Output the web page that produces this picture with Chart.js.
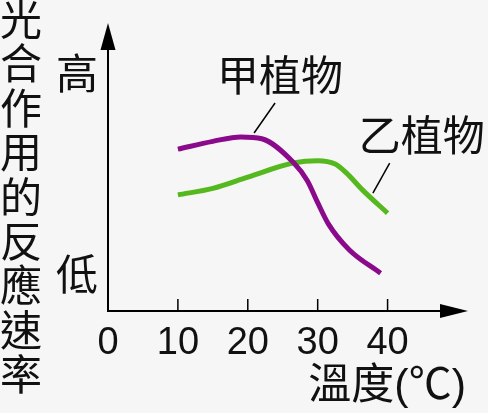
<!DOCTYPE html>
<html>
<head>
<meta charset="utf-8">
<script src="https://cdn.jsdelivr.net/npm/chart.js@4/dist/chart.umd.min.js"></script>
<style>
  html, body { margin: 0; padding: 0; background: #f7f6f6; }
  #wrap { width: 488px; height: 413px; }
</style>
</head>
<body>
<div id="wrap"><canvas id="chart" width="488" height="413"></canvas></div>
<script>
// 甲植物 / 乙植物 的溫度-速率曲線 (讀圖估計, 單位任意 0~100)
const jiaTemps = [10, 15, 19, 22, 26.5, 28.5, 30, 31.5, 34.5, 39];
const jiaRates = [62, 65, 66.7, 66, 57, 50, 41.5, 33.5, 23.5, 14.5];
const yiTemps = [10, 15, 20, 26.5, 30, 32.5, 34.1, 36.4, 40];
const yiRates = [44.5, 47, 51.3, 56.7, 57.6, 56.3, 52.9, 46.4, 37.5];

const xTickValues = [0, 10, 20, 30, 40];
const yTickValues = [14.2, 91.2];
const yTickLabels = ["低", "高"];

const seriesNames = ["甲植物", "乙植物"];
const xTitle = "溫度(℃)";
const yTitle = "光合作用的反應速率";

const CJK = "'Noto Sans CJK TC', 'Noto Sans CJK SC', sans-serif";
const LATIN = "'Liberation Sans', Arial, 'Noto Sans CJK TC', sans-serif";

// 箭頭、刻度、標籤與引線
const decorPlugin = {
    id: "decor",
    afterDraw(chart, args, opts) {
        const ctx = chart.ctx;
        const xs = chart.scales.x;
        const ys = chart.scales.y;
        const left = xs.left, bottom = ys.bottom;
        ctx.save();
        ctx.fillStyle = "#000";
        ctx.strokeStyle = "#000";

        // y 軸延伸與箭頭
        ctx.lineWidth = 2;
        ctx.beginPath();
        ctx.moveTo(left, ys.top);
        ctx.lineTo(left, ys.top - 10);
        ctx.stroke();
        ctx.beginPath();
        ctx.moveTo(left, ys.top - 27);
        ctx.lineTo(left - 7.5, ys.top);
        ctx.lineTo(left + 7.5, ys.top);
        ctx.closePath();
        ctx.fill();

        // x 軸箭頭
        ctx.beginPath();
        ctx.moveTo(xs.right + 28, bottom);
        ctx.lineTo(xs.right, bottom - 7);
        ctx.lineTo(xs.right, bottom + 7);
        ctx.closePath();
        ctx.fill();

        // 內側刻度
        ctx.lineWidth = 1.5;
        xTickValues.forEach(v => {
            if (v === 0) return;
            const px = xs.getPixelForValue(v);
            ctx.beginPath();
            ctx.moveTo(px, bottom);
            ctx.lineTo(px, bottom - 12);
            ctx.stroke();
        });

        // 引線
        ctx.lineWidth = 1.5;
        opts.leaders.forEach(l => {
            ctx.beginPath();
            ctx.moveTo(xs.getPixelForValue(l[0]), ys.getPixelForValue(l[1]));
            ctx.lineTo(xs.getPixelForValue(l[2]), ys.getPixelForValue(l[3]));
            ctx.stroke();
        });

        // 曲線名稱
        ctx.fillStyle = "#111";
        ctx.font = "42px " + CJK;
        ctx.textAlign = "center";
        ctx.textBaseline = "middle";
        opts.labels.forEach((l, i) => {
            ctx.fillText(seriesNames[i], xs.getPixelForValue(l[0]), ys.getPixelForValue(l[1]));
        });

        // y 軸標題 (直書)
        ctx.font = "42px " + CJK;
        [...yTitle].forEach((ch, i) => {
            ctx.fillText(ch, 21, 19 + i * 44.4);
        });

        // x 軸標題
        ctx.font = "43px " + LATIN;
        ctx.textAlign = "right";
        ctx.fillText(xTitle, xs.right + 26, 387);

        ctx.restore();
    }
};

new Chart(document.getElementById("chart"), {
    type: "line",
    data: {
        datasets: [
            {
                label: seriesNames[0],
                data: jiaTemps.map((t, i) => ({ x: t, y: jiaRates[i] })),
                borderColor: "#8b0a8b",
                borderWidth: 5,
                pointRadius: 0,
                cubicInterpolationMode: "monotone",
                fill: false
            },
            {
                label: seriesNames[1],
                data: yiTemps.map((t, i) => ({ x: t, y: yiRates[i] })),
                borderColor: "#55b81e",
                borderWidth: 5,
                pointRadius: 0,
                cubicInterpolationMode: "monotone",
                fill: false
            }
        ]
    },
    options: {
        responsive: false,
        animation: false,
        layout: { padding: { left: 0, top: 50, right: 48, bottom: 0 } },
        plugins: {
            legend: { display: false },
            tooltip: { enabled: false },
            decor: {
                labels: [[24.6, 90.4], [44.9, 67.4]],
                leaders: [[23.9, 79.7, 20.9, 68.2], [40.3, 56.7, 37.9, 45.2]]
            }
        },
        scales: {
            x: {
                type: "linear",
                min: 0,
                max: 47.5,
                grid: { display: false, drawTicks: false },
                border: { display: true, color: "#000", width: 2 },
                afterBuildTicks: s => { s.ticks = xTickValues.map(v => ({ value: v })); },
                afterFit: s => { s.height = 102; },
                ticks: {
                    autoSkip: false,
                    maxRotation: 0,
                    padding: 10,
                    color: "#111",
                    font: { family: LATIN, size: 38, lineHeight: 1.2 }
                }
            },
            y: {
                type: "linear",
                min: 0,
                max: 100,
                grid: { display: false, drawTicks: false },
                border: { display: true, color: "#000", width: 2 },
                afterBuildTicks: s => { s.ticks = yTickValues.map(v => ({ value: v })); },
                afterFit: s => { s.width = 108; },
                ticks: {
                    padding: 10,
                    color: "#111",
                    font: { family: CJK, size: 42 },
                    callback: v => yTickLabels[yTickValues.indexOf(v)]
                }
            }
        }
    },
    plugins: [decorPlugin]
});
</script>
</body>
</html>
